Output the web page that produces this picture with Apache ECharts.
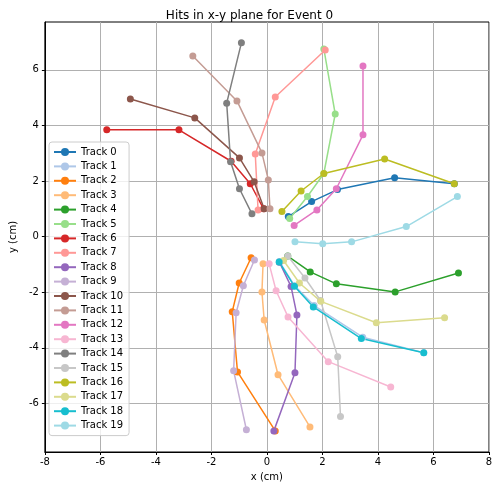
<!DOCTYPE html>
<html><head><meta charset="utf-8">
<script src="https://cdn.jsdelivr.net/npm/echarts@6/dist/echarts.min.js"></script>
<style>html,body{margin:0;padding:0;background:#fff}#c{width:499px;height:488px}</style>
</head><body><div id="c"></div>
<script>
const trackNames = ['Track 0','Track 1','Track 2','Track 3','Track 4','Track 5','Track 6','Track 7','Track 8','Track 9','Track 10','Track 11','Track 12','Track 13','Track 14','Track 15','Track 16','Track 17','Track 18','Track 19'];
const colors = ['#1f77b4','#aec7e8','#ff7f0e','#ffbb78','#2ca02c','#98df8a','#d62728','#ff9896','#9467bd','#c5b0d5','#8c564b','#c49c94','#e377c2','#f7b6d2','#7f7f7f','#c7c7c7','#bcbd22','#dbdb8d','#17becf','#9edae5'];
const t0 = [[0.77,0.72],[1.61,1.26],[2.54,1.69],[4.6,2.12],[6.75,1.9]];
const t1 = [[0.45,-0.9],[1.0,-1.77],[1.7,-2.48],[3.45,-3.62],[5.65,-4.18]];
const t2 = [[-0.57,-0.76],[-1.0,-1.67],[-1.25,-2.7],[-1.06,-4.87],[0.3,-6.99]];
const t3 = [[-0.14,-0.98],[-0.18,-1.99],[-0.1,-3.0],[0.4,-4.97],[1.55,-6.85]];
const t4 = [[0.75,-0.7],[1.56,-1.27],[2.5,-1.7],[4.62,-1.99],[6.9,-1.31]];
const t5 = [[0.82,0.65],[1.46,1.44],[2.05,2.27],[2.46,4.41],[2.05,6.75]];
const t6 = [[-0.12,1.0],[-0.6,1.9],[-1.29,2.71],[-3.17,3.84],[-5.77,3.84]];
const t7 = [[-0.32,0.96],[-0.42,2.97],[0.3,5.02],[2.1,6.71]];
const t8 = [[0.45,-0.92],[0.87,-1.8],[1.08,-2.82],[1.01,-4.9],[0.25,-6.99]];
const t9 = [[-0.45,-0.84],[-0.85,-1.77],[-1.11,-2.74],[-1.2,-4.83],[-0.74,-6.95]];
const t10 = [[-0.1,1.0],[-0.46,1.97],[-0.99,2.83],[-2.6,4.27],[-4.92,4.95]];
const t11 = [[0.11,1.0],[0.05,2.04],[-0.18,3.01],[-1.08,4.88],[-2.67,6.5]];
const t12 = [[0.98,0.4],[1.8,0.96],[2.5,1.72],[3.46,3.66],[3.46,6.14]];
const t13 = [[0.08,-0.98],[0.33,-1.95],[0.76,-2.89],[2.21,-4.5],[4.46,-5.41]];
const t14 = [[-0.54,0.82],[-0.99,1.72],[-1.31,2.69],[-1.45,4.8],[-0.92,6.97]];
const t15 = [[0.75,-0.7],[1.37,-1.49],[1.93,-2.3],[2.55,-4.32],[2.65,-6.47]];
const t16 = [[0.54,0.9],[1.23,1.64],[2.05,2.27],[4.24,2.79],[6.75,1.9]];
const t17 = [[0.6,-0.86],[1.17,-1.67],[1.94,-2.33],[3.94,-3.1],[6.4,-2.92]];
const t18 = [[0.44,-0.91],[0.99,-1.79],[1.67,-2.53],[3.4,-3.67],[5.65,-4.18]];
const t19 = [[1.01,-0.19],[2.01,-0.26],[3.05,-0.19],[5.02,0.36],[6.86,1.44]];
const tracks = [t0,t1,t2,t3,t4,t5,t6,t7,t8,t9,t10,t11,t12,t13,t14,t15,t16,t17,t18,t19];
const xTicks = [-8,-6,-4,-2,0,2,4,6,8];
const yTicks = [-6,-4,-2,0,2,4,6];

const font = 'DejaVu Sans';
const chart = echarts.init(document.getElementById('c'));
chart.setOption({
  animation:false,
  textStyle:{fontFamily:font},
  title:{text:'Hits in x-y plane for Event 0',left:'center',top:5,textStyle:{fontSize:12,fontWeight:'normal',color:'#000',fontFamily:font}},
  grid:{left:41,right:10,top:22,bottom:36,show:true,borderColor:'#000',borderWidth:1,backgroundColor:'transparent'},
  legend:{orient:'vertical',left:49,top:142,itemGap:4.4,itemWidth:22,itemHeight:10,
    padding:[5,6,5,4],borderColor:'#ccc',borderWidth:1,borderRadius:3,backgroundColor:'rgba(255,255,255,0.8)',
    textStyle:{fontSize:10,color:'#000',fontFamily:font},data:trackNames},
  xAxis:{type:'value',min:-8,max:8,interval:2,name:'x (cm)',nameLocation:'middle',nameGap:20,
    nameTextStyle:{fontSize:10,color:'#000'},
    axisLine:{onZero:false,lineStyle:{color:'#000'}},axisTick:{show:true,length:3,lineStyle:{color:'#000'}},
    axisLabel:{fontSize:10,color:'#000',margin:5,customValues:xTicks},
    splitLine:{show:true,lineStyle:{color:'#b0b0b0'}}},
  yAxis:{type:'value',min:-7.75,max:7.72,name:'y (cm)',nameLocation:'middle',nameGap:26,
    nameTextStyle:{fontSize:10,color:'#000'},
    axisLine:{onZero:false,lineStyle:{color:'#000'}},
    axisTick:{show:true,length:3,lineStyle:{color:'#000'},customValues:yTicks},
    axisLabel:{fontSize:10,color:'#000',margin:6,customValues:yTicks},
    splitLine:{show:true,lineStyle:{color:'#b0b0b0'}}},
  series: tracks.map((d,i)=>({name:trackNames[i],type:'line',data:d,color:colors[i],
    symbol:'circle',symbolSize:7,showSymbol:true,lineStyle:{width:1.5},itemStyle:{color:colors[i]}}))
});
</script></body></html>
